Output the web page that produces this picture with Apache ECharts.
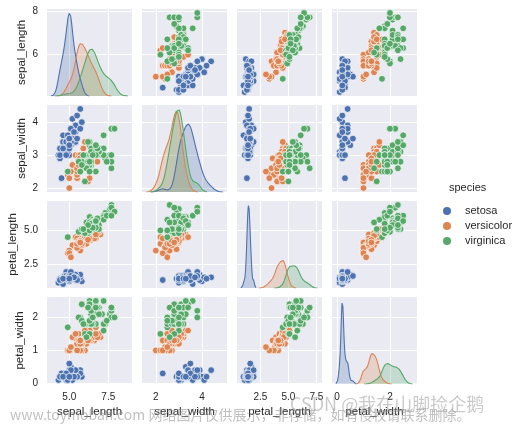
<!DOCTYPE html>
<html><head><meta charset="utf-8">
<script src="https://cdn.jsdelivr.net/npm/echarts@6/dist/echarts.min.js"></script>
<style>html,body{margin:0;padding:0;background:#fff}#c{width:516px;height:425px}</style>
</head><body><div id="c"></div>
<script>
// ---------------- data (Fisher iris, as plotted) ----------------
const variables = ['sepal_length', 'sepal_width', 'petal_length', 'petal_width'];
const species = ['setosa', 'versicolor', 'virginica'];

const setosaSepalLength = [5.1,4.9,4.7,4.6,5.0,5.4,4.6,5.0,4.4,4.9,5.4,4.8,4.8,4.3,5.8,5.7,5.4,5.1,5.7,5.1,5.4,5.1,4.6,5.1,4.8,5.0,5.0,5.2,5.2,4.7,4.8,5.4,5.2,5.5,4.9,5.0,5.5,4.9,4.4,5.1,5.0,4.5,4.4,5.0,5.1,4.8,5.1,4.6,5.3,5.0];
const setosaSepalWidth  = [3.5,3.0,3.2,3.1,3.6,3.9,3.4,3.4,2.9,3.1,3.7,3.4,3.0,3.0,4.0,4.4,3.9,3.5,3.8,3.8,3.4,3.7,3.6,3.3,3.4,3.0,3.4,3.5,3.4,3.2,3.1,3.4,4.1,4.2,3.1,3.2,3.5,3.6,3.0,3.4,3.5,2.3,3.2,3.5,3.8,3.0,3.8,3.2,3.7,3.3];
const setosaPetalLength = [1.4,1.4,1.3,1.5,1.4,1.7,1.4,1.5,1.4,1.5,1.5,1.6,1.4,1.1,1.2,1.5,1.3,1.4,1.7,1.5,1.7,1.5,1.0,1.7,1.9,1.6,1.6,1.5,1.4,1.6,1.6,1.5,1.5,1.4,1.5,1.2,1.3,1.4,1.3,1.5,1.3,1.3,1.3,1.6,1.9,1.4,1.6,1.4,1.5,1.4];
const setosaPetalWidth  = [0.2,0.2,0.2,0.2,0.2,0.4,0.3,0.2,0.2,0.1,0.2,0.2,0.1,0.1,0.2,0.4,0.4,0.3,0.3,0.3,0.2,0.4,0.2,0.5,0.2,0.2,0.4,0.2,0.2,0.2,0.2,0.4,0.1,0.2,0.2,0.2,0.2,0.1,0.2,0.2,0.3,0.3,0.2,0.6,0.4,0.3,0.2,0.2,0.2,0.2];

const versicolorSepalLength = [7.0,6.4,6.9,5.5,6.5,5.7,6.3,4.9,6.6,5.2,5.0,5.9,6.0,6.1,5.6,6.7,5.6,5.8,6.2,5.6,5.9,6.1,6.3,6.1,6.4,6.6,6.8,6.7,6.0,5.7,5.5,5.5,5.8,6.0,5.4,6.0,6.7,6.3,5.6,5.5,5.5,6.1,5.8,5.0,5.6,5.7,5.7,6.2,5.1,5.7];
const versicolorSepalWidth  = [3.2,3.2,3.1,2.3,2.8,2.8,3.3,2.4,2.9,2.7,2.0,3.0,2.2,2.9,2.9,3.1,3.0,2.7,2.2,2.5,3.2,2.8,2.5,2.8,2.9,3.0,2.8,3.0,2.9,2.6,2.4,2.4,2.7,2.7,3.0,3.4,3.1,2.3,3.0,2.5,2.6,3.0,2.6,2.3,2.7,3.0,2.9,2.9,2.5,2.8];
const versicolorPetalLength = [4.7,4.5,4.9,4.0,4.6,4.5,4.7,3.3,4.6,3.9,3.5,4.2,4.0,4.7,3.6,4.4,4.5,4.1,4.5,3.9,4.8,4.0,4.9,4.7,4.3,4.4,4.8,5.0,4.5,3.5,3.8,3.7,3.9,5.1,4.5,4.5,4.7,4.4,4.1,4.0,4.4,4.6,4.0,3.3,4.2,4.2,4.2,4.3,3.0,4.1];
const versicolorPetalWidth  = [1.4,1.5,1.5,1.3,1.5,1.3,1.6,1.0,1.3,1.4,1.0,1.5,1.0,1.4,1.3,1.4,1.5,1.0,1.5,1.1,1.8,1.3,1.5,1.2,1.3,1.4,1.4,1.7,1.5,1.0,1.1,1.0,1.2,1.6,1.5,1.6,1.5,1.3,1.3,1.3,1.2,1.4,1.2,1.0,1.3,1.2,1.3,1.3,1.1,1.3];

const virginicaSepalLength = [6.3,5.8,7.1,6.3,6.5,7.6,4.9,7.3,6.7,7.2,6.5,6.4,6.8,5.7,5.8,6.4,6.5,7.7,7.7,6.0,6.9,5.6,7.7,6.3,6.7,7.2,6.2,6.1,6.4,7.2,7.4,7.9,6.4,6.3,6.1,7.7,6.3,6.4,6.0,6.9,6.7,6.9,5.8,6.8,6.7,6.7,6.3,6.5,6.2,5.9];
const virginicaSepalWidth  = [3.3,2.7,3.0,2.9,3.0,3.0,2.5,2.9,2.5,3.6,3.2,2.7,3.0,2.5,2.8,3.2,3.0,3.8,2.6,2.2,3.2,2.8,2.8,2.7,3.3,3.2,2.8,3.0,2.8,3.0,2.8,3.8,2.8,2.8,2.6,3.0,3.4,3.1,3.0,3.1,3.1,3.1,2.7,3.2,3.3,3.0,2.5,3.0,3.4,3.0];
const virginicaPetalLength = [6.0,5.1,5.9,5.6,5.8,6.6,4.5,6.3,5.8,6.1,5.1,5.3,5.5,5.0,5.1,5.3,5.5,6.7,6.9,5.0,5.7,4.9,6.7,4.9,5.7,6.0,4.8,4.9,5.6,5.8,6.1,6.4,5.6,5.1,5.6,6.1,5.6,5.5,4.8,5.4,5.6,5.1,5.1,5.9,5.7,5.2,5.0,5.2,5.4,5.1];
const virginicaPetalWidth  = [2.5,1.9,2.1,1.8,2.2,2.1,1.7,1.8,1.8,2.5,2.0,1.9,2.1,2.0,2.4,2.3,1.8,2.2,2.3,1.5,2.3,2.0,2.0,1.8,2.1,1.8,1.8,1.8,2.1,1.6,1.9,2.0,2.2,1.5,1.4,2.3,2.4,1.8,1.8,2.1,2.4,2.3,1.9,2.3,2.5,2.3,1.9,2.0,2.3,1.8];

// tick values and labels (per variable)
const sepalLengthXTicks = [5.0, 7.5];      const sepalLengthXTickLabels = ['5.0', '7.5'];
const sepalLengthYTicks = [6, 8];          const sepalLengthYTickLabels = ['6', '8'];
const sepalWidthXTicks  = [2, 4];          const sepalWidthXTickLabels  = ['2', '4'];
const sepalWidthYTicks  = [2, 3, 4];       const sepalWidthYTickLabels  = ['2', '3', '4'];
const petalLengthXTicks = [2.5, 5.0, 7.5]; const petalLengthXTickLabels = ['2.5', '5.0', '7.5'];
const petalLengthYTicks = [2.5, 5.0];      const petalLengthYTickLabels = ['2.5', '5.0'];
const petalWidthXTicks  = [0, 2];          const petalWidthXTickLabels  = ['0', '2'];
const petalWidthYTicks  = [0, 1, 2];       const petalWidthYTickLabels  = ['0', '1', '2'];

// ---------------- assembly ----------------
const colors = ['#4C72B0', '#DD8452', '#55A868'];
const groups = [
  [setosaSepalLength, setosaSepalWidth, setosaPetalLength, setosaPetalWidth],
  [versicolorSepalLength, versicolorSepalWidth, versicolorPetalLength, versicolorPetalWidth],
  [virginicaSepalLength, virginicaSepalWidth, virginicaPetalLength, virginicaPetalWidth]
];
const xTicks = [[sepalLengthXTicks, sepalLengthXTickLabels],[sepalWidthXTicks, sepalWidthXTickLabels],[petalLengthXTicks, petalLengthXTickLabels],[petalWidthXTicks, petalWidthXTickLabels]];
const yTicks = [[sepalLengthYTicks, sepalLengthYTickLabels],[sepalWidthYTicks, sepalWidthYTickLabels],[petalLengthYTicks, petalLengthYTickLabels],[petalWidthYTicks, petalWidthYTickLabels]];

function stats(v) {
  const n = v.length, m = v.reduce((a, b) => a + b, 0) / n;
  const sd = Math.sqrt(v.reduce((a, b) => a + (b - m) * (b - m), 0) / (n - 1));
  return { n, m, sd, bw: sd * Math.pow(n, -0.2), min: Math.min(...v), max: Math.max(...v) };
}
function kde(v) { // gaussian KDE, Scott bandwidth, cut=3, as seaborn
  const s = stats(v), lo = s.min - 3 * s.bw, hi = s.max + 3 * s.bw, pts = [];
  for (let g = 0; g < 200; g++) {
    const x = lo + (hi - lo) * g / 199; let d = 0;
    for (const xi of v) { const z = (x - xi) / s.bw; d += Math.exp(-0.5 * z * z); }
    pts.push([x, d / (s.n * s.bw * Math.sqrt(2 * Math.PI)) / 3]);
  }
  return pts;
}
const kdes = variables.map((_, vi) => groups.map(g => kde(g[vi])));
const xRange = variables.map((_, vi) => {
  let lo = Infinity, hi = -Infinity;
  kdes[vi].forEach(p => { lo = Math.min(lo, p[0][0]); hi = Math.max(hi, p[p.length - 1][0]); });
  const pad = 0.05 * (hi - lo); return [lo - pad, hi + pad];
});
const yRange = variables.map((_, vi) => {
  const all = groups.flatMap(g => g[vi]); const lo = Math.min(...all), hi = Math.max(...all);
  const pad = 0.05 * (hi - lo); return [lo - pad, hi + pad];
});
const densMax = variables.map((_, vi) => 1.05 * Math.max(...kdes[vi].flatMap(p => p.map(q => q[1]))));

const TXT = '#262626', FONT = 'Liberation Sans, Arial, sans-serif';
const L0 = 47, T0 = 9, W = 85, H = 87, PX = 95, PY = 96;
const yNameGap = [19, 19, 28, 21];

const grid = [], xAxis = [], yAxis = [], series = [];
function lab(ticks, labels) {
  return (v) => { const k = ticks.findIndex(t => Math.abs(t - v) < 1e-9); return k >= 0 ? labels[k] : ''; };
}
for (let i = 0; i < 4; i++) for (let j = 0; j < 4; j++) {
  const k = i * 4 + j;
  grid.push({ left: L0 + PX * j, top: T0 + PY * i, width: W, height: H, show: true, backgroundColor: '#EAEAF2', borderWidth: 0 });
  const [xt, xl] = xTicks[j], [yt, yl] = yTicks[i];
  xAxis.push({
    type: 'value', gridIndex: k, min: xRange[j][0], max: xRange[j][1],
    axisLine: { show: false }, axisTick: { show: false, customValues: xt },
    splitLine: { show: true, lineStyle: { color: '#ffffff', width: 1 } },
    axisLabel: { show: i === 3, customValues: xt, formatter: lab(xt, xl), color: TXT, fontSize: 10, fontFamily: FONT, margin: 8 },
    name: i === 3 ? variables[j] : '', nameLocation: 'middle', nameGap: 22,
    nameTextStyle: { color: TXT, fontSize: 11.5, fontFamily: FONT }
  });
  yAxis.push({
    type: 'value', gridIndex: k, min: yRange[i][0], max: yRange[i][1],
    axisLine: { show: false }, axisTick: { show: false, customValues: yt },
    splitLine: { show: true, lineStyle: { color: '#ffffff', width: 1 } },
    axisLabel: { show: j === 0, customValues: yt, formatter: lab(yt, yl), color: TXT, fontSize: 10, fontFamily: FONT, margin: 9 },
    name: j === 0 ? variables[i] : '', nameLocation: 'middle', nameRotate: 90, nameGap: yNameGap[i],
    nameTextStyle: { color: TXT, fontSize: 11.5, fontFamily: FONT }
  });
}
// extra density axes for the diagonal panels
for (let i = 0; i < 4; i++) {
  yAxis.push({ type: 'value', gridIndex: i * 5, min: 0, max: densMax[i], show: false, splitLine: { show: false } });
}
for (let i = 0; i < 4; i++) for (let j = 0; j < 4; j++) {
  const k = i * 4 + j;
  if (i === j) {
    species.forEach((s, si) => series.push({
      name: s, type: 'line', xAxisIndex: k, yAxisIndex: 16 + i, data: kdes[i][si],
      showSymbol: false, symbol: 'none', smooth: false, silent: true,
      lineStyle: { color: colors[si], width: 1.1 }, itemStyle: { color: colors[si] },
      areaStyle: { color: colors[si], opacity: 0.25, origin: 0 }
    }));
  } else {
    species.forEach((s, si) => series.push({
      name: s, type: 'scatter', xAxisIndex: k, yAxisIndex: k,
      data: groups[si][j].map((x, n) => [x, groups[si][i][n]]),
      symbolSize: 6.8, itemStyle: { color: colors[si], borderColor: '#ffffff', borderWidth: 0.7, opacity: 1 }
    }));
  }
}

const chart = echarts.init(document.getElementById('c'), null, { renderer: 'canvas' });
chart.setOption({
  backgroundColor: '#ffffff',
  animation: false,
  grid, xAxis, yAxis, series,
  legend: {
    data: species.map(s => ({ name: s, icon: 'circle' })),
    orient: 'vertical', left: 438, top: 200, itemWidth: 8, itemHeight: 8, itemGap: 3,
    textStyle: { color: TXT, fontSize: 11, fontFamily: FONT, lineHeight: 12, padding: [0, 0, 0, 9] },
    selectedMode: false
  },
  graphic: [
    { type: 'text', left: 449, top: 182, style: { text: 'species', fill: TXT, font: '11px Liberation Sans, Arial, sans-serif' } },
    { type: 'text', left: 10, top: 408, z: 100, style: { text: 'www.toymoban.com 网络图片仅供展示，非存储，如有侵权请联系删除。', fill: 'rgba(140,140,140,0.55)', font: '14px Noto Sans CJK SC, Liberation Sans, sans-serif' } },
    { type: 'text', left: 290, top: 395, z: 100, style: { text: 'CSDN @我在山脚捡企鹅', fill: 'rgba(150,150,150,0.5)', font: '18px Noto Sans CJK SC, Liberation Sans, sans-serif' } }
  ]
});
</script>
</body></html>
